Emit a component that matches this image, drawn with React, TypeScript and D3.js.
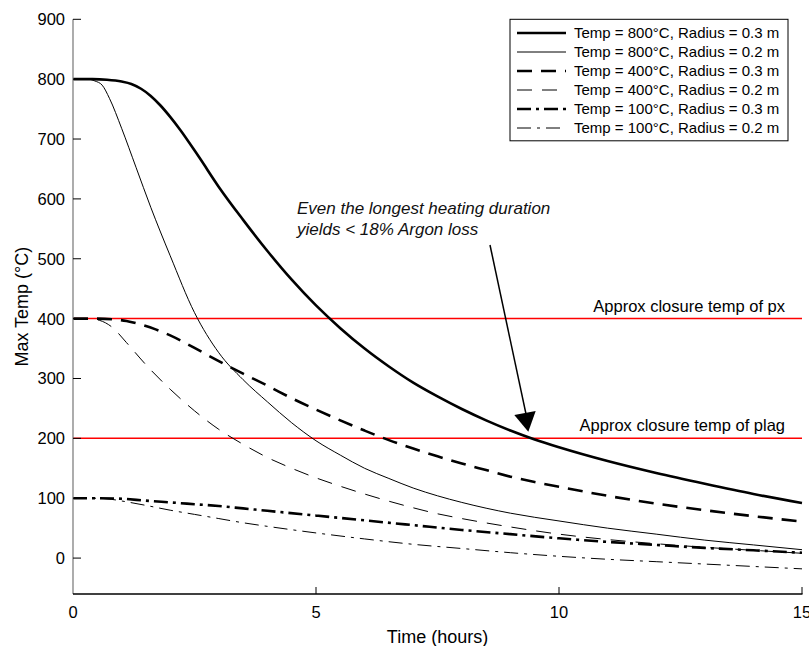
import React from "react";
import * as d3 from "d3";

const W = 809;
const H = 646;

const xTicks = [0, 5, 10, 15];
const yTicks = [0, 100, 200, 300, 400, 500, 600, 700, 800, 900];

const timeA = [0, 0.4, 0.7, 1.0, 1.2, 1.4, 1.6, 1.8, 2.0, 2.2, 2.6, 3.0, 3.5, 4.0, 4.5, 5.0, 5.5, 6.0, 6.5, 7.0, 7.5, 8.0, 8.5, 9.0, 9.5, 10, 11, 12, 13, 14, 15];
const tempA = [800, 800, 799, 796, 792, 784, 772, 756, 737, 716, 669, 620, 565, 513, 465, 422, 384, 350, 320, 293, 270, 249, 230, 213, 198, 185, 162, 142, 124, 107, 92];

const timeB = [0, 0.3, 0.45, 0.6, 0.75, 1.0, 1.3, 1.6, 2.0, 2.5, 3.0, 3.5, 4.0, 4.5, 5.0, 5.5, 6.0, 6.5, 7.0, 7.5, 8.0, 9.0, 10, 11, 12, 13, 14, 15];
const tempB = [800, 800, 797, 790, 768, 718, 652, 586, 505, 410, 343, 298, 261, 226, 196, 172, 150, 133, 117, 104, 93, 75, 62, 50, 40, 30, 22, 14];

const timeC = [0, 0.5, 0.8, 1.1, 1.4, 1.7, 2.0, 2.5, 3.0, 3.5, 4.0, 4.5, 5.0, 5.5, 6.0, 6.5, 7.0, 7.5, 8.0, 8.5, 9.0, 9.5, 10, 11, 12, 13, 14, 15];
const tempC = [400, 400, 399, 396, 390, 382, 372, 351, 329, 308, 288, 267, 248, 230, 213, 197, 183, 170, 158, 147, 136, 127, 119, 104, 91, 80, 70, 61];

const timeD = [0, 0.3, 0.55, 0.8, 1.1, 1.5, 2.0, 2.5, 3.0, 3.5, 4.0, 4.5, 5.0, 5.5, 6.0, 6.5, 7.0, 7.5, 8.0, 9.0, 10, 11, 12, 13, 14, 15];
const tempD = [400, 400, 397, 386, 360, 323, 282, 246, 215, 190, 168, 150, 134, 120, 107, 95, 84, 74, 66, 52, 40, 31, 24, 18, 13, 8];

const timeE = [0, 0.5, 0.9, 1.5, 2.0, 2.5, 3.0, 3.5, 4.0, 5.0, 6.0, 7.0, 8.0, 9.0, 10, 11, 12, 13, 14, 15];
const tempE = [100, 100, 99.5, 96, 93, 90, 87, 83, 79, 71, 63, 55, 47, 40, 33, 27, 22, 17, 13, 9];

const timeF = [0, 0.5, 0.8, 1.1, 1.5, 2.0, 2.5, 3.0, 3.5, 4.0, 5.0, 6.0, 7.0, 8.0, 9.0, 10, 11, 12, 13, 14, 15];
const tempF = [100, 100, 98, 94, 88, 80, 73, 66, 59, 53, 42, 32, 23, 16, 9, 3, -2, -6, -10, -14, -18];

const seriesLabels = [
  "Temp = 800°C, Radius = 0.3 m",
  "Temp = 800°C, Radius = 0.2 m",
  "Temp = 400°C, Radius = 0.3 m",
  "Temp = 400°C, Radius = 0.2 m",
  "Temp = 100°C, Radius = 0.3 m",
  "Temp = 100°C, Radius = 0.2 m",
];

const closureTemps = [400, 200];
const closureLabels = ["Approx closure temp of px", "Approx closure temp of plag"];

const FONT = "'Liberation Sans', Arial, Helvetica, sans-serif";

export default function App() {
  const x = d3.scaleLinear().domain([0, 15]).range([73, 802]);
  const y = d3.scaleLinear().domain([-60, 900]).range([594, 19.3]);

  const seriesData = [
    [timeA, tempA],
    [timeB, tempB],
    [timeC, tempC],
    [timeD, tempD],
    [timeE, tempE],
    [timeF, tempF],
  ];
  const styles = [
    { w: 2.6, dash: "" },
    { w: 1, dash: "" },
    { w: 2.6, dash: "15,9" },
    { w: 1, dash: "15,10" },
    { w: 2.6, dash: "14,5,3,5" },
    { w: 1, dash: "14,6,3,6" },
  ];

  const line = d3
    .line<[number, number]>()
    .x((d) => x(d[0]))
    .y((d) => y(d[1]))
    .curve(d3.curveMonotoneX);

  const legendX = 510;
  const legendY = 19.3;
  const legendW = 278;
  const legendH = 121.5;
  const rowY = (i: number) => 33 + i * 19;

  return (
    <svg
      width={W}
      height={H}
      style={{ position: "absolute", left: 0, top: 0, background: "#fff" }}
      fontFamily={FONT}
    >
      <rect x={0} y={0} width={W} height={H} fill="#fff" />

      {/* closure lines */}
      {closureTemps.map((t, i) => (
        <g key={"c" + i}>
          <line x1={x(0)} x2={x(15)} y1={y(t)} y2={y(t)} stroke="#ff0000" strokeWidth={1.5} />
          <text x={785} y={y(t) - 7} textAnchor="end" fontSize={16.5} fill="#000">
            {closureLabels[i]}
          </text>
        </g>
      ))}

      {/* series */}
      {seriesData.map(([ts, vs], i) => {
        const pts = ts.map((t, j) => [t, vs[j]] as [number, number]);
        return (
          <path
            key={"s" + i}
            d={line(pts) || ""}
            fill="none"
            stroke="#000"
            strokeWidth={styles[i].w}
            strokeDasharray={styles[i].dash || undefined}
          />
        );
      })}

      {/* axes */}
      <line x1={x(0)} x2={x(0)} y1={y(900)} y2={y(-60)} stroke="#808080" strokeWidth={1.3} />
      <line x1={x(0)} x2={x(15) + 0.5} y1={y(-60)} y2={y(-60)} stroke="#000" strokeWidth={1.3} />
      {yTicks.map((t) => (
        <g key={"y" + t}>
          <line x1={x(0)} x2={x(0) + 8} y1={y(t)} y2={y(t)} stroke="#000" strokeWidth={1} />
          <text x={65} y={y(t)} dy="0.36em" textAnchor="end" fontSize={16.5}>
            {t}
          </text>
        </g>
      ))}
      {xTicks.map((t) => (
        <g key={"x" + t}>
          {t > 0 && (
            <line x1={x(t)} x2={x(t)} y1={y(-60)} y2={y(-60) - 7} stroke="#000" strokeWidth={1} />
          )}
          <text x={x(t)} y={618} textAnchor="middle" fontSize={16.5}>
            {t}
          </text>
        </g>
      ))}
      <text x={x(7.5)} y={643} textAnchor="middle" fontSize={18}>
        Time (hours)
      </text>
      <text
        transform={`translate(28, ${y(420)}) rotate(-90)`}
        textAnchor="middle"
        fontSize={18}
      >
        Max Temp (°C)
      </text>

      {/* legend */}
      <rect x={legendX} y={legendY} width={legendW} height={legendH} fill="#fff" stroke="#000" strokeWidth={1} />
      {seriesLabels.map((lab, i) => (
        <g key={"l" + i}>
          <line
            x1={517}
            x2={566}
            y1={rowY(i)}
            y2={rowY(i)}
            stroke="#000"
            strokeWidth={styles[i].w}
            strokeDasharray={styles[i].dash || undefined}
          />
          <text x={574} y={rowY(i)} dy="0.36em" fontSize={15}>
            {lab}
          </text>
        </g>
      ))}

      {/* annotation */}
      <text x={297} y={214} fontSize={17} fontStyle="italic" fill="#111">
        Even the longest heating duration
      </text>
      <text x={297} y={235} fontSize={17} fontStyle="italic" fill="#111">
        yields {"<"} 18% Argon loss
      </text>
      <line x1={490} y1={245} x2={526} y2={414} stroke="#000" strokeWidth={1.5} />
      <path d="M514.3,415 L535.7,411 L528.3,431.7 Z" fill="#000" />
    </svg>
  );
}
